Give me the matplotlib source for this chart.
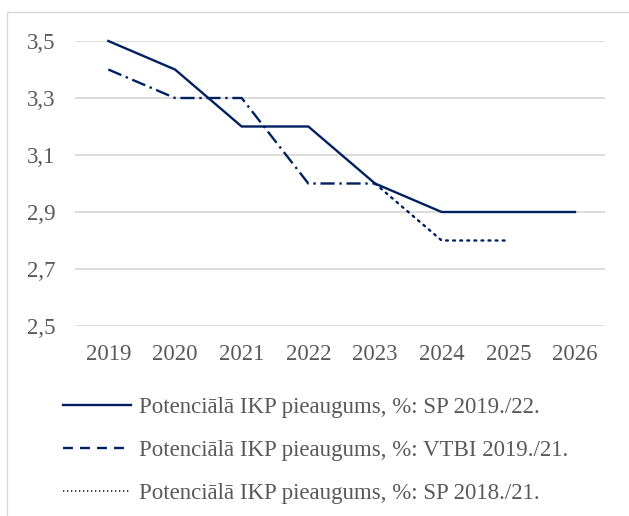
import matplotlib.pyplot as plt
from matplotlib.lines import Line2D
from matplotlib.patches import Rectangle

years = ["2019", "2020", "2021", "2022", "2023", "2024", "2025", "2026"]
sp_19_22 = [3.5, 3.4, 3.2, 3.2, 3.0, 2.9, 2.9, 2.9]
vtbi_19_21 = [3.4, 3.3, 3.3, 3.0, 3.0]
sp_18_21 = [None, None, None, None, 3.0, 2.8, 2.8]
y_ticks = [2.5, 2.7, 2.9, 3.1, 3.3, 3.5]

labels = [
    "Potenciālā IKP pieaugums, %: SP 2019./22.",
    "Potenciālā IKP pieaugums, %: VTBI 2019./21.",
    "Potenciālā IKP pieaugums, %: SP 2018./21.",
]

navy = "#002060"
grey_txt = "#595959"
grid_c = "#D9D9D9"

plt.rcParams['font.family'] = ['Liberation Serif', 'DejaVu Serif']

fig = plt.figure(figsize=(6.29, 5.16), dpi=100)
# outer chart border
fig.patches.append(Rectangle((7 / 629, -0.1), 1.0, 1 - 12 / 516 + 0.1,
                             transform=fig.transFigure, fill=False,
                             edgecolor=grid_c, linewidth=1))

ax = fig.add_axes([75 / 629, 1 - 326 / 516, 530 / 629, 285 / 516])

x = list(range(len(years)))
ax.plot(x, sp_19_22, color=navy, lw=1.7, clip_on=False,
        solid_joinstyle='miter')
ax.plot(x[:len(vtbi_19_21)], vtbi_19_21, color=navy, lw=1.7, clip_on=False,
        dashes=(6, 2, 1, 2))
sp18_x = [i for i, v in enumerate(sp_18_21) if v is not None]
sp18_y = [v for v in sp_18_21 if v is not None]
ax.plot(sp18_x, sp18_y, color=navy, lw=1.7, clip_on=False,
        dashes=(0.8, 2.2), dash_capstyle='round')

ax.set_xlim(-0.5, 7.45)
ax.set_ylim(2.5, 3.5)
ax.set_xticks(x)
ax.set_xticklabels(years)
ax.set_yticks(y_ticks)
ax.set_yticklabels([f"{v:.1f}".replace(".", ",") for v in y_ticks])
ax.tick_params(axis='both', length=0, labelsize=16.5, colors=grey_txt)
ax.tick_params(axis='y', pad=14)
ax.tick_params(axis='x', pad=13)
ax.grid(axis='y', color=grid_c, lw=1.3)
ax.set_axisbelow(True)
for s in ax.spines.values():
    s.set_visible(False)

handles = [
    Line2D([], [], color=navy, lw=1.7),
    Line2D([], [], color=navy, lw=1.7, dashes=(4.2, 3)),
    Line2D([], [], color=navy, lw=1.2, dashes=(0.8, 1.6)),
]
leg = fig.legend(handles, labels, loc='upper left',
                 bbox_to_anchor=(63 / 629, 1 - 397 / 516),
                 frameon=False, fontsize=16.5, handlelength=2.95,
                 handletextpad=0.35, labelspacing=0.95,
                 borderpad=0, borderaxespad=0)
for t in leg.get_texts():
    t.set_color(grey_txt)

fig.savefig("out.png", dpi=100)
